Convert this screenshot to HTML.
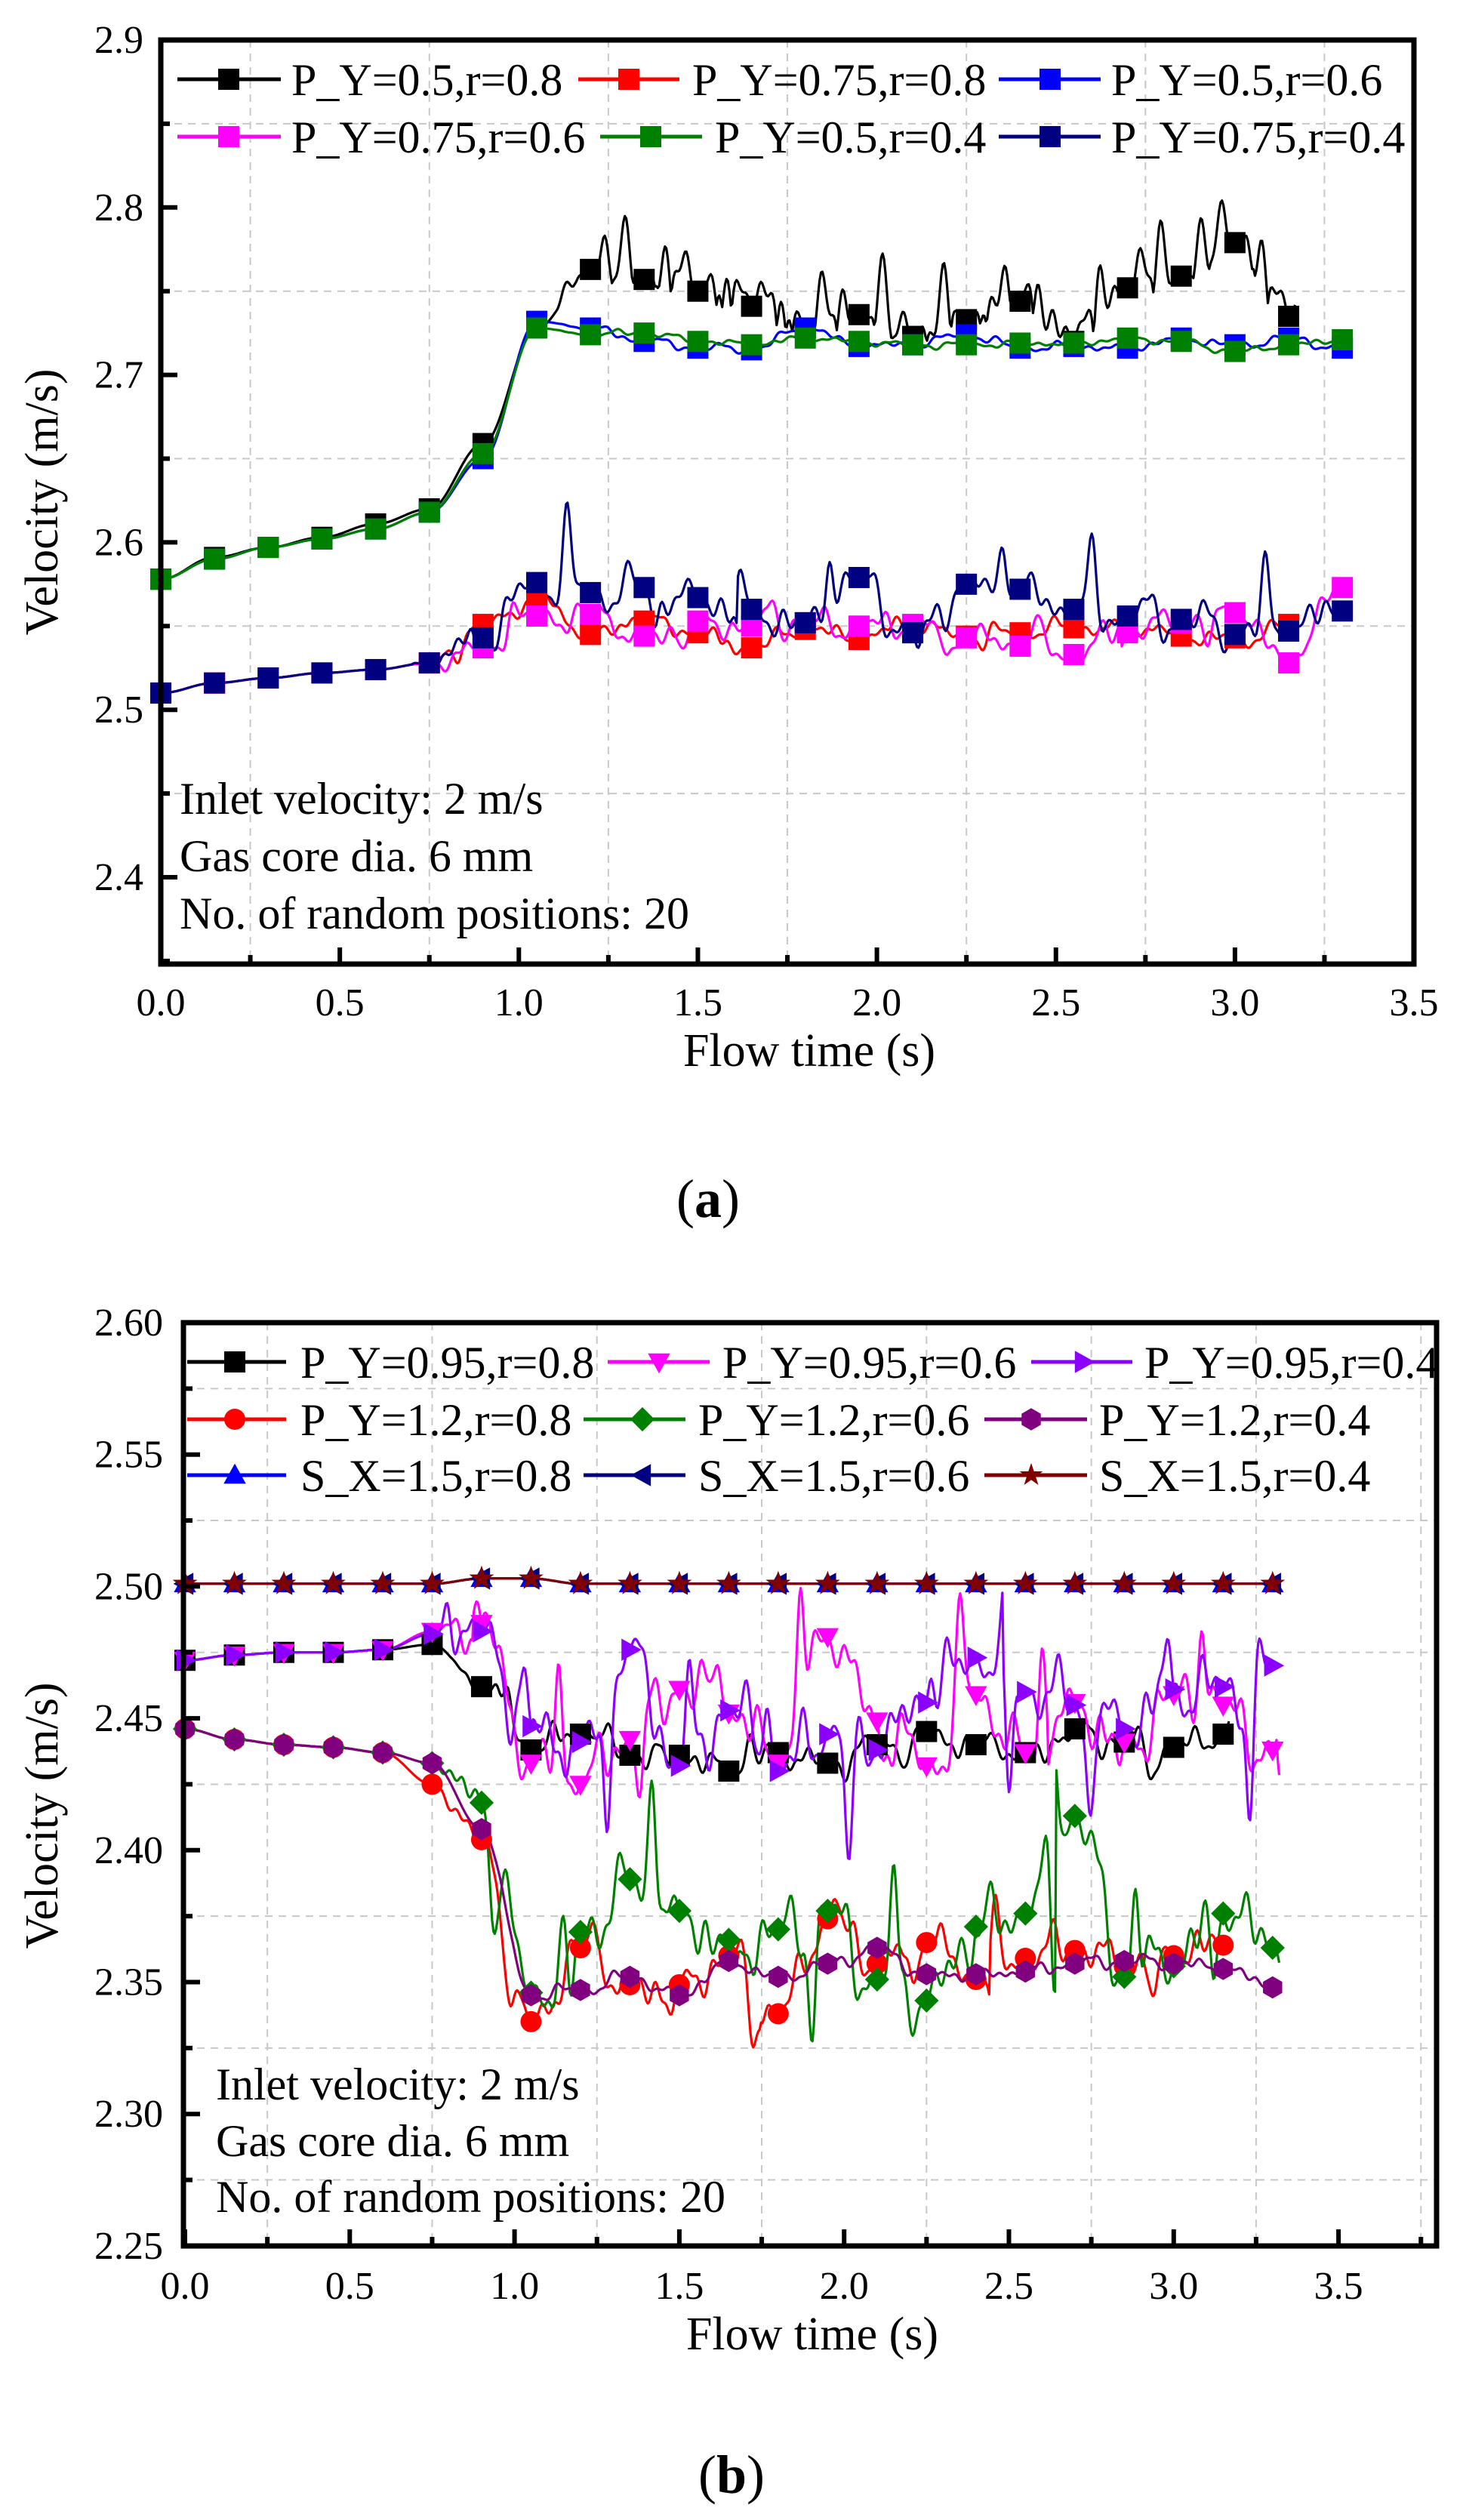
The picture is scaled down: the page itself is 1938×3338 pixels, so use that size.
<!DOCTYPE html>
<html><head><meta charset="utf-8">
<style>
html,body{margin:0;padding:0;background:#fff;}
svg{display:block;}
text{font-family:"Liberation Serif","DejaVu Serif",serif;fill:#000;}
</style></head>
<body>
<svg id="s" xmlns="http://www.w3.org/2000/svg" width="1938" height="3338" viewBox="0 0 1938 3338">
<rect width="1938" height="3338" fill="#fff"/>
<g id="g"></g>
</svg>
<script>
var NS="http://www.w3.org/2000/svg";
var G=document.getElementById('g');
function el(n,a,p){var e=document.createElementNS(NS,n);for(var k in a)e.setAttribute(k,a[k]);(p||G).appendChild(e);return e;}
function txt(x,y,s,fs,anchor,extra){var a={x:x,y:y,'font-size':fs,'text-anchor':anchor||'start'};for(var k in extra)a[k]=extra[k];var t=el('text',a);t.textContent=s;return t;}

function marker(type,x,y,c,sz){
  var r=sz/2;
  if(type=='sq')el('rect',{x:x-r,y:y-r,width:sz,height:sz,fill:c});
  else if(type=='ci')el('circle',{cx:x,cy:y,r:r,fill:c});
  else if(type=='tu')el('polygon',{points:(x)+','+(y-r*1.1)+' '+(x+r*1.05)+','+(y+r*0.8)+' '+(x-r*1.05)+','+(y+r*0.8),fill:c});
  else if(type=='td')el('polygon',{points:(x)+','+(y+r*1.1)+' '+(x+r*1.05)+','+(y-r*0.8)+' '+(x-r*1.05)+','+(y-r*0.8),fill:c});
  else if(type=='tr')el('polygon',{points:(x+r*1.1)+','+y+' '+(x-r*0.8)+','+(y-r*1.05)+' '+(x-r*0.8)+','+(y+r*1.05),fill:c});
  else if(type=='tl')el('polygon',{points:(x-r*1.1)+','+y+' '+(x+r*0.8)+','+(y-r*1.05)+' '+(x+r*0.8)+','+(y+r*1.05),fill:c});
  else if(type=='di')el('polygon',{points:x+','+(y-r*1.15)+' '+(x+r*1.15)+','+y+' '+x+','+(y+r*1.15)+' '+(x-r*1.15)+','+y,fill:c});
  else if(type=='hx'){var p=[];for(var i=0;i<6;i++){var a=Math.PI/6+i*Math.PI/3;p.push((x+r*1.05*Math.cos(a))+','+(y+r*1.05*Math.sin(a)));}el('polygon',{points:p.join(' '),fill:c});}
  else if(type=='st'){var p=[];for(var i=0;i<10;i++){var a=-Math.PI/2+i*Math.PI/5;var rr=(i%2?r*0.45:r*1.15);p.push((x+rr*Math.cos(a))+','+(y+rr*Math.sin(a)));}el('polygon',{points:p.join(' '),fill:c});}
}

function axes(o){
  var X=o.X,Y=o.Y;
  for(var t=o.xmin+o.xminor;t<o.xmaxg;t+=o.xmajor){var x=X(t);el('line',{x1:x,y1:o.top,x2:x,y2:o.bot,stroke:'#c8c8c8','stroke-width':2,'stroke-dasharray':'10,8'});}
  for(var v=o.yfirstgrid;v<o.ymaxv-1e-9;v+=o.ymajor){var y=Y(v);el('line',{x1:o.left,y1:y,x2:o.right,y2:y,stroke:'#c8c8c8','stroke-width':2,'stroke-dasharray':'10,8'});}
}
function frame(o){
  var X=o.X,Y=o.Y;
  el('rect',{x:o.left,y:o.top,width:o.right-o.left,height:o.bot-o.top,fill:'none',stroke:'#000','stroke-width':7});
  for(var i=0;;i++){var t=o.xmin+i*o.xminor;if(t>o.xmaxg+1e-9)break;var x=X(t);var maj=(i%2==0);
    el('line',{x1:x,y1:o.bot,x2:x,y2:o.bot-(maj?22:12),stroke:'#000','stroke-width':6});
    if(maj&&t<=o.xlabmax+1e-9)txt(x,o.xlaby,t.toFixed(1),52,'middle');}
  for(var i=0;;i++){var v=o.ymin+i*o.yminor;if(v>o.ymaxv+1e-9)break;var y=Y(v);var maj=o.ymajfn(i);
    el('line',{x1:o.left,y1:y,x2:o.left+(maj?22:12),y2:y,stroke:'#000','stroke-width':6});
    if(maj&&o.ylab(v))txt(o.ylabx,y+17,v.toFixed(o.ydec),52,'end');}
}
function interp(ms,t){
  for(var i=0;i<ms.length-1;i++){if(t<=ms[i+1][0]+1e-9){var a=ms[i],b=ms[i+1];var f=(t-a[0])/(b[0]-a[0]);f=(1-Math.cos(Math.PI*f))/2;return a[1]+(b[1]-a[1])*f;}}
  return ms[ms.length-1][1];
}
function series(o,s){
  var ms=s.m;var tend=ms[ms.length-1][0]+(s.ext||0.02);
  var pts=[];
  for(var t=0;t<=tend+1e-9;t+=0.004){
    var base=interp(ms,Math.min(t,ms[ms.length-1][0]));
    var amp=s.amp*Math.min(1,Math.max(0,(t-s.t0)/0.15));
    var sd=s.seed;
    var n=0.5*Math.sin(2*Math.PI*t*6.3+sd)+0.35*Math.sin(2*Math.PI*t*11.7+2.1*sd)+0.25*Math.sin(2*Math.PI*t*23.1+3.3*sd);
    if(s.spk){var q=Math.sin(2*Math.PI*t*4.1+sd*1.7);n+= s.spk*Math.pow(Math.max(0,q),12)*(Math.sin(sd*5+t*9)>0?1:-1);}
    if(s.pos)n=Math.abs(n)*1.3-0.2;
    var w=Math.abs(Math.sin(Math.PI*t/0.15));
    pts.push(o.X(t).toFixed(1)+','+o.Y(base+amp*n*w).toFixed(1));
  }
  el('polyline',{points:pts.join(' '),fill:'none',stroke:s.c,'stroke-width':3.2,'stroke-linejoin':'round'});
}
function marks(o,s){for(var i=0;i<s.m.length;i++)marker(s.mk,o.X(s.m[i][0]),o.Y(s.m[i][1]),s.c,s.sz||28);}
function legend(items){items.forEach(function(it){
  el('line',{x1:it.x1,y1:it.y,x2:it.x2,y2:it.y,stroke:it.c,'stroke-width':5});
  marker(it.mk,it.mx,it.y,it.c,28);
  txt(it.tx,it.y+21,it.s,60,'start');
});}
function mk(t0,vals){var r=[];for(var i=0;i<vals.length;i++)r.push([Math.round((t0+0.15*i)*100)/100,vals[i]]);return r;}

// ---------- Plot (a)
var A={left:213,right:1873,top:53,bot:1277};
A.X=function(t){return 213+t*474.3;};
A.Y=function(v){return 53+(2.9-v)*2218;};
A.xmin=0;A.xminor=0.25;A.xmajor=0.5;A.xmaxg=3.5;A.xlabmax=3.5;A.xlaby=1345;
A.ymin=2.35;A.yminor=0.05;A.ymajor=0.1;A.ymaxv=2.9;A.yfirstgrid=2.45;
A.ymajfn=function(i){return i%2==1;};A.ylab=function(v){return v>2.39;};A.ylabx=190;A.ydec=1;
axes(A);
var upStart=[2.578,2.590,2.597,2.602,2.608,2.618,2.653];
var green={c:'#008000',mk:'sq',amp:0.003,t0:1.1,seed:1.3,m:mk(0,upStart.concat([2.728,2.724,2.725,2.720,2.718,2.722,2.720,2.718,2.718,2.719,2.719,2.722,2.720,2.714,2.718,2.721]))};
var blue={c:'#0000ff',mk:'sq',amp:0.004,t0:1.1,seed:2.7,m:mk(0,[2.578,2.590,2.597,2.602,2.608,2.618,2.650,2.732,2.728,2.720,2.716,2.715,2.728,2.717,2.718,2.724,2.716,2.717,2.716,2.722,2.718,2.722,2.716])};
var black={c:'#000000',mk:'sq',amp:0.035,t0:1.1,seed:0.4,pos:1,m:mk(0,[2.578,2.591,2.597,2.603,2.611,2.620,2.659,2.728,2.763,2.757,2.750,2.741,2.728,2.736,2.723,2.733,2.744,2.720,2.752,2.759,2.779,2.735])};
var lowStart=[2.510,2.516,2.519,2.522,2.524,2.528];
var red={c:'#ff0000',mk:'sq',amp:0.008,t0:0.7,seed:3.1,spk:0.8,m:mk(0,lowStart.concat([2.551,2.566,2.545,2.553,2.546,2.537,2.548,2.542,2.549,2.544,2.546,2.549,2.548,2.544,2.543,2.551]))};
var mag={c:'#ff00ff',mk:'sq',amp:0.013,t0:0.7,seed:4.6,spk:1.4,m:mk(0,lowStart.concat([2.537,2.556,2.557,2.544,2.553,2.550,2.552,2.550,2.551,2.543,2.538,2.533,2.546,2.552,2.558,2.528,2.573]))};
var navy={c:'#000080',mk:'sq',amp:0.02,t0:0.7,seed:5.9,spk:1.8,m:mk(0,lowStart.concat([2.543,2.576,2.570,2.573,2.567,2.560,2.552,2.579,2.546,2.575,2.572,2.560,2.556,2.554,2.545,2.547,2.559]))};
[black,blue,green,red,mag,navy].forEach(function(s){series(A,s);});
[black,blue,green,red,mag,navy].forEach(function(s){marks(A,s);});
frame(A);
legend([
 {x1:235,x2:372,mx:303,y:105,c:'#000',mk:'sq',tx:386,s:'P_Y=0.5,r=0.8'},
 {x1:766,x2:900,mx:833,y:105,c:'#ff0000',mk:'sq',tx:917,s:'P_Y=0.75,r=0.8'},
 {x1:1323,x2:1458,mx:1391,y:105,c:'#0000ff',mk:'sq',tx:1472,s:'P_Y=0.5,r=0.6'},
 {x1:235,x2:372,mx:303,y:181,c:'#ff00ff',mk:'sq',tx:386,s:'P_Y=0.75,r=0.6'},
 {x1:795,x2:930,mx:862,y:181,c:'#008000',mk:'sq',tx:947,s:'P_Y=0.5,r=0.4'},
 {x1:1323,x2:1458,mx:1391,y:181,c:'#000080',mk:'sq',tx:1472,s:'P_Y=0.75,r=0.4'}
]);
txt(238,1078,'Inlet velocity: 2 m/s',60);
txt(238,1154,'Gas core dia. 6 mm',60);
txt(238,1230,'No. of random positions: 20',60);
txt(1072,1412,'Flow time (s)',62,'middle');
txt(0,0,'Velocity (m/s)',62,'middle',{transform:'translate(76,665) rotate(-90)'});
var tA=el('text',{x:938,y:1612,'font-size':72,'text-anchor':'middle'});
tA.innerHTML='(<tspan font-weight="bold">a</tspan>)';

// ---------- Plot (b)
var B={left:243,right:1903,top:1752,bot:2975};
B.X=function(t){return 245+t*436.6;};
B.Y=function(v){return 1752+(2.60-v)*3494;};
B.xmin=0;B.xminor=0.25;B.xmajor=0.5;B.xmaxg=3.8;B.xlabmax=3.5;B.xlaby=3045;
B.ymin=2.25;B.yminor=0.025;B.ymajor=0.05;B.ymaxv=2.60;B.yfirstgrid=2.275;
B.ymajfn=function(i){return i%2==0;};B.ylab=function(v){return true;};B.ylabx=216;B.ydec=2;
axes(B);
var flat=[];for(var i=0;i<23;i++)flat.push(2.501);
var bump=flat.slice();bump[6]=2.503;bump[7]=2.503;
var sxA={c:'#0000ff',mk:'tu',amp:0,t0:9,seed:1,m:mk(0,bump)};
var sxB={c:'#000080',mk:'tl',amp:0,t0:9,seed:1,m:mk(0,bump)};
var sxC={c:'#800000',mk:'st',amp:0,t0:9,seed:1,m:mk(0,bump),sz:30};
var hiS=[2.472,2.474,2.475,2.475,2.476];
var bsq={c:'#000',mk:'sq',amp:0.009,t0:0.8,seed:0.9,spk:1.2,m:mk(0,hiS.concat([2.478,2.462,2.438,2.444,2.436,2.436,2.430,2.437,2.433,2.440,2.445,2.440,2.437,2.446,2.441,2.439,2.444]))};
var mtd={c:'#ff00ff',mk:'td',amp:0.018,t0:0.75,seed:2.2,spk:2.2,m:mk(0,hiS.concat([2.483,2.486,2.433,2.425,2.442,2.461,2.452,2.433,2.481,2.449,2.432,2.459,2.437,2.456,2.441,2.459,2.455,2.438]))};
var ptr={c:'#8b00ff',mk:'tr',amp:0.02,t0:0.75,seed:3.7,spk:2.6,m:mk(0,hiS.concat([2.482,2.483,2.447,2.441,2.476,2.432,2.453,2.430,2.444,2.438,2.456,2.473,2.460,2.455,2.446,2.461,2.462,2.470]))};
var loS=[2.446,2.442,2.440,2.439,2.437];
var rci={c:'#ff0000',mk:'ci',amp:0.013,t0:0.75,seed:4.4,spk:1.6,m:mk(0,loS.concat([2.425,2.404,2.335,2.363,2.349,2.349,2.360,2.338,2.374,2.357,2.365,2.351,2.359,2.362,2.356,2.360,2.364]))};
var gdi={c:'#008000',mk:'di',amp:0.02,t0:0.75,seed:5.3,spk:2.4,m:mk(0,loS.concat([2.433,2.418,2.346,2.369,2.389,2.377,2.366,2.370,2.377,2.351,2.343,2.371,2.376,2.413,2.352,2.356,2.376,2.363]))};
var phx={c:'#800080',mk:'hx',amp:0.004,t0:0.9,seed:6.1,m:mk(0,loS.concat([2.433,2.408,2.345,2.347,2.352,2.345,2.358,2.352,2.357,2.363,2.353,2.353,2.354,2.357,2.358,2.357,2.355,2.348]))};
var all=[bsq,mtd,ptr,rci,gdi,phx,sxA,sxB,sxC];
all.forEach(function(s){series(B,s);});
all.forEach(function(s){marks(B,s);});
frame(B);
legend([
 {x1:248,x2:379,mx:311,y:1804,c:'#000',mk:'sq',tx:398,s:'P_Y=0.95,r=0.8'},
 {x1:805,x2:940,mx:873,y:1804,c:'#ff00ff',mk:'td',tx:957,s:'P_Y=0.95,r=0.6'},
 {x1:1366,x2:1500,mx:1435,y:1804,c:'#8b00ff',mk:'tr',tx:1516,s:'P_Y=0.95,r=0.4'},
 {x1:248,x2:379,mx:311,y:1880,c:'#ff0000',mk:'ci',tx:398,s:'P_Y=1.2,r=0.8'},
 {x1:773,x2:908,mx:851,y:1880,c:'#008000',mk:'di',tx:925,s:'P_Y=1.2,r=0.6'},
 {x1:1304,x2:1440,mx:1366,y:1880,c:'#800080',mk:'hx',tx:1456,s:'P_Y=1.2,r=0.4'},
 {x1:248,x2:379,mx:311,y:1954,c:'#0000ff',mk:'tu',tx:398,s:'S_X=1.5,r=0.8'},
 {x1:773,x2:908,mx:851,y:1954,c:'#000080',mk:'tl',tx:925,s:'S_X=1.5,r=0.6'},
 {x1:1304,x2:1440,mx:1366,y:1954,c:'#800000',mk:'st',tx:1456,s:'S_X=1.5,r=0.4'}
]);
txt(286,2781,'Inlet velocity: 2 m/s',60);
txt(286,2856,'Gas core dia. 6 mm',60);
txt(286,2930,'No. of random positions: 20',60);
txt(1076,3112,'Flow time (s)',62,'middle');
txt(0,0,'Velocity (m/s)',62,'middle',{transform:'translate(76,2405) rotate(-90)'});
var tB=el('text',{x:969,y:3302,'font-size':72,'text-anchor':'middle'});
tB.innerHTML='(<tspan font-weight="bold">b</tspan>)';
</script>
</body></html>
